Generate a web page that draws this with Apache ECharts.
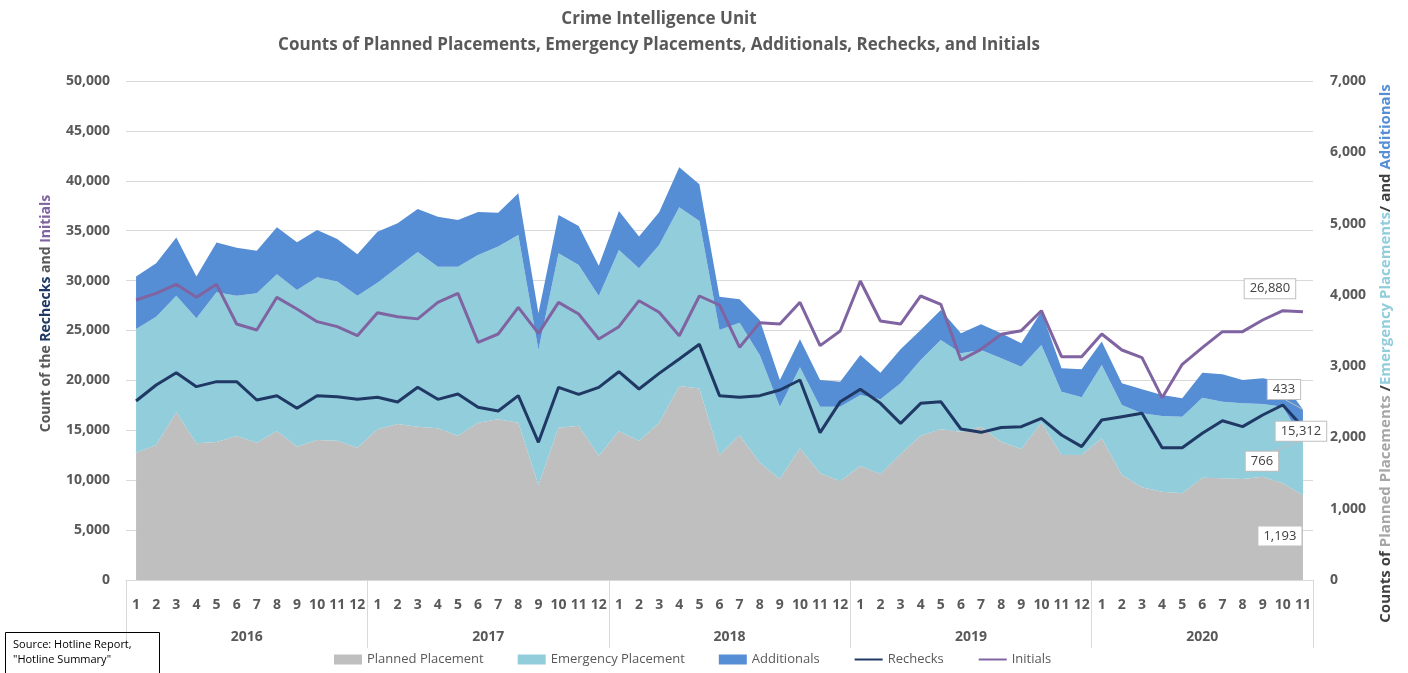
<!DOCTYPE html>
<html>
<head>
<meta charset="utf-8">
<script src="https://cdn.jsdelivr.net/npm/echarts@6/dist/echarts.min.js"></script>
<style>
  html, body { margin: 0; padding: 0; background: #fff; }
  #chart { width: 1408px; height: 673px; }
</style>
</head>
<body>
<div id="chart"></div>
<script>
// month tick labels, 2016-01 .. 2020-11
var monthLabels = ['1','2','3','4','5','6','7','8','9','10','11','12',
                   '1','2','3','4','5','6','7','8','9','10','11','12',
                   '1','2','3','4','5','6','7','8','9','10','11','12',
                   '1','2','3','4','5','6','7','8','9','10','11','12',
                   '1','2','3','4','5','6','7','8','9','10','11'];
var years = ['2016', '2017', '2018', '2019', '2020'];
var monthsPerYear = [12, 12, 12, 12, 11];

// right axis (stacked areas)
var planned = [1786,1894,2353,1918,1936,2020,1927,2090,1871,1964,1955,1856,
               2114,2189,2150,2128,2025,2207,2254,2207,1333,2137,2165,1744,
               2090,1950,2207,2722,2685,1754,2034,1646,1417,1847,1497,1389,
               1599,1487,1768,2025,2114,2081,2151,1940,1838,2207,1754,1754,
               1988,1473,1300,1239,1216,1436,1426,1417,1450,1356,1193];
var emergency = [1736,1800,1636,1753,2100,1969,2095,2199,2198,2283,2231,2133,
                 2057,2198,2450,2268,2371,2353,2423,2633,1894,2446,2254,2241,
                 2540,2423,2493,2507,2352,1754,1576,1511,1015,1137,935,1043,
                 997,1048,992,1062,1253,1099,1076,1170,1155,1090,888,809,
                 1028,982,1039,1062,1075,1122,1076,1062,1019,1076,766];
var additionals = [734,749,814,585,697,673,598,659,669,664,598,580,
                   716,618,605,701,655,603,476,585,515,538,548,425,
                   547,444,459,561,515,467,328,491,374,393,374,350,
                   561,374,477,421,421,281,360,351,328,468,328,393,
                   328,305,336,295,258,351,383,327,361,350,433];

// left axis (lines)
var rechecks = [17936,19539,20772,19372,19873,19873,18036,18470,17201,18470,18370,18103,
                18303,17836,19305,18103,18637,17303,16934,18470,13795,19305,18604,19305,
                20872,19138,20705,22144,23614,18470,18303,18470,19038,20040,14763,17870,
                19105,17702,15698,17702,17870,15130,14796,15280,15364,16201,14529,13360,
                16032,16366,16700,13260,13260,14696,15962,15364,16533,17535,15312];
var initials = [28056,28724,29625,28323,29625,25651,25050,28323,27154,25885,25384,24479,
                26783,26382,26165,27821,28724,23815,24649,27324,24716,27821,26653,24148,
                25384,27988,26823,24479,28457,27555,23317,25785,25651,27821,23484,24950,
                29960,25952,25651,28457,27621,22044,23116,24616,24983,26984,22378,22378,
                24649,23046,22278,18270,21610,23280,24883,24883,26052,26984,26880];

var FONT = 'Open Sans';
var GREY_TEXT = '#595959';

// year label positions = middle of each year's months
var yearCenters = [];
var yearEdges = [0];
var acc = 0;
monthsPerYear.forEach(function (n) {
    yearCenters.push(acc + n / 2);
    acc += n;
    yearEdges.push(acc);
});
var lastIdx = monthLabels.length - 1;

function fmt(v) {
    return Number(v).toLocaleString('en-US');
}

var calloutText = {
    backgroundColor: '#fff',
    borderColor: '#bfbfbf',
    borderWidth: 1,
    padding: [3, 5],
    color: '#404040',
    fontFamily: FONT,
    fontSize: 13
};

// only the last point gets a callout label
function withEndLabel(arr) {
    return arr.map(function (v, i) {
        if (i === arr.length - 1) {
            return { value: v, label: { show: true } };
        }
        return v;
    });
}

function areaSeries(name, data, color, dx, dy) {
    return {
        name: name,
        type: 'line',
        stack: 'placements',
        yAxisIndex: 1,
        data: withEndLabel(data),
        showSymbol: true,
        showAllSymbol: true,
        symbolSize: 0,
        lineStyle: { width: 0 },
        itemStyle: { color: color },
        areaStyle: { color: color, opacity: 1 },
        label: Object.assign({
            show: false,
            position: 'inside',
            formatter: function (p) { return fmt(p.value); }
        }, calloutText),
        labelLine: { show: true, lineStyle: { color: '#bfbfbf', width: 1 } },
        labelLayout: { dx: dx, dy: dy },
        emphasis: { disabled: true }
    };
}

function lineSeries(name, data, color, dx, dy) {
    return {
        name: name,
        type: 'line',
        yAxisIndex: 0,
        data: data,
        symbol: 'none',
        lineStyle: { width: 3, color: color },
        itemStyle: { color: color },
        emphasis: { disabled: true },
        markPoint: {
            symbol: 'circle',
            symbolSize: 0,
            silent: true,
            label: Object.assign({
                show: true,
                position: 'inside',
                offset: [dx, dy],
                formatter: function (p) { return fmt(p.value); }
            }, calloutText),
            data: [{ coord: [lastIdx, data[lastIdx]], value: data[lastIdx] }]
        },
        z: 3
    };
}

var chart = echarts.init(document.getElementById('chart'));

var option = {
    animation: false,
    textStyle: { fontFamily: FONT },
    title: [{
        text: 'Crime Intelligence Unit\nCounts of Planned Placements, Emergency Placements, Additionals, Rechecks, and Initials',
        left: 654,
        top: 1,
        textAlign: 'center',
        textStyle: { fontFamily: FONT, fontSize: 17, fontWeight: 'bold', color: GREY_TEXT, lineHeight: 26 }
    }, {
        text: 'Source: Hotline Report,\n"Hotline Summary"',
        left: 5,
        top: 632,
        borderColor: '#000',
        borderWidth: 1,
        padding: [5, 28, 10, 8],
        textStyle: { fontFamily: FONT, fontSize: 11, fontWeight: 'normal', color: '#000', lineHeight: 15 }
    }],
    legend: {
        data: [
            { name: 'Planned Placement', icon: 'rect' },
            { name: 'Emergency Placement', icon: 'rect' },
            { name: 'Additionals', icon: 'rect' },
            { name: 'Rechecks', itemStyle: { opacity: 0 } },
            { name: 'Initials', itemStyle: { opacity: 0 } }
        ],
        left: 329,
        top: 648,
        itemWidth: 28,
        itemHeight: 10,
        itemGap: 34,
        textStyle: { fontFamily: FONT, fontSize: 13, color: GREY_TEXT }
    },
    grid: { left: 126, right: 95, top: 81, bottom: 93 },
    xAxis: [{
        type: 'category',
        data: monthLabels,
        boundaryGap: true,
        axisLine: { lineStyle: { color: '#d9d9d9' } },
        axisTick: { show: false },
        axisLabel: { interval: 0, margin: 18, fontFamily: FONT, fontSize: 14, fontWeight: 'bold', color: GREY_TEXT }
    }, {
        type: 'value',
        position: 'bottom',
        min: 0,
        max: acc,
        axisLine: { show: false },
        splitLine: { show: false },
        axisTick: { show: true, customValues: yearEdges, length: 68, lineStyle: { color: '#d9d9d9' } },
        axisLabel: {
            customValues: yearCenters,
            margin: 50,
            formatter: function (v) { return years[yearCenters.indexOf(v)] || ''; },
            fontFamily: FONT, fontSize: 14, fontWeight: 'bold', color: GREY_TEXT
        }
    }],
    yAxis: [{
        type: 'value',
        min: 0,
        max: 50000,
        interval: 5000,
        axisLine: { show: false },
        axisTick: { show: false },
        splitLine: { lineStyle: { color: '#d9d9d9' } },
        axisLabel: { margin: 16, formatter: fmt, fontFamily: FONT, fontSize: 14, fontWeight: 'bold', color: GREY_TEXT },
        name: '{a|Count of the }{b|Rechecks}{a| and }{c|Initials}',
        nameLocation: 'middle',
        nameRotate: 90,
        nameGap: 73,
        nameTextStyle: {
            padding: [0, 0, 0, 34],
            rich: {
                a: { fontFamily: FONT, fontSize: 14, fontWeight: 'bold', color: GREY_TEXT },
                b: { fontFamily: FONT, fontSize: 14, fontWeight: 'bold', color: '#1f3864' },
                c: { fontFamily: FONT, fontSize: 14, fontWeight: 'bold', color: '#8064a2' }
            }
        }
    }, {
        type: 'value',
        min: 0,
        max: 7000,
        interval: 1000,
        position: 'right',
        axisLine: { show: false },
        axisTick: { show: false },
        splitLine: { show: false },
        axisLabel: { margin: 17, formatter: fmt, fontFamily: FONT, fontSize: 14, fontWeight: 'bold', color: GREY_TEXT },
        name: '{a|Counts of }{p|Planned Placements}{a| /}{e|Emergency Placements}{a|/ and }{d|Additionals}',
        nameLocation: 'middle',
        nameRotate: 90,
        nameGap: 65,
        nameTextStyle: {
            padding: [0, 46, 0, 0],
            rich: {
                a: { fontFamily: FONT, fontSize: 15, fontWeight: 'bold', color: '#404040' },
                p: { fontFamily: FONT, fontSize: 15, fontWeight: 'bold', color: '#a6a6a6' },
                e: { fontFamily: FONT, fontSize: 15, fontWeight: 'bold', color: '#92cddc' },
                d: { fontFamily: FONT, fontSize: 15, fontWeight: 'bold', color: '#558ed5' }
            }
        }
    }],
    series: [
        areaSeries('Planned Placement', planned, '#bfbfbf', -23, 41),
        areaSeries('Emergency Placement', emergency, '#92cddc', -41, 21),
        areaSeries('Additionals', additionals, '#558ed5', -19, -20),
        lineSeries('Rechecks', rechecks, '#1f3864', -2, 4),
        lineSeries('Initials', initials, '#8064a2', -33, -23)
    ]
};

chart.setOption(option);
</script>
</body>
</html>
